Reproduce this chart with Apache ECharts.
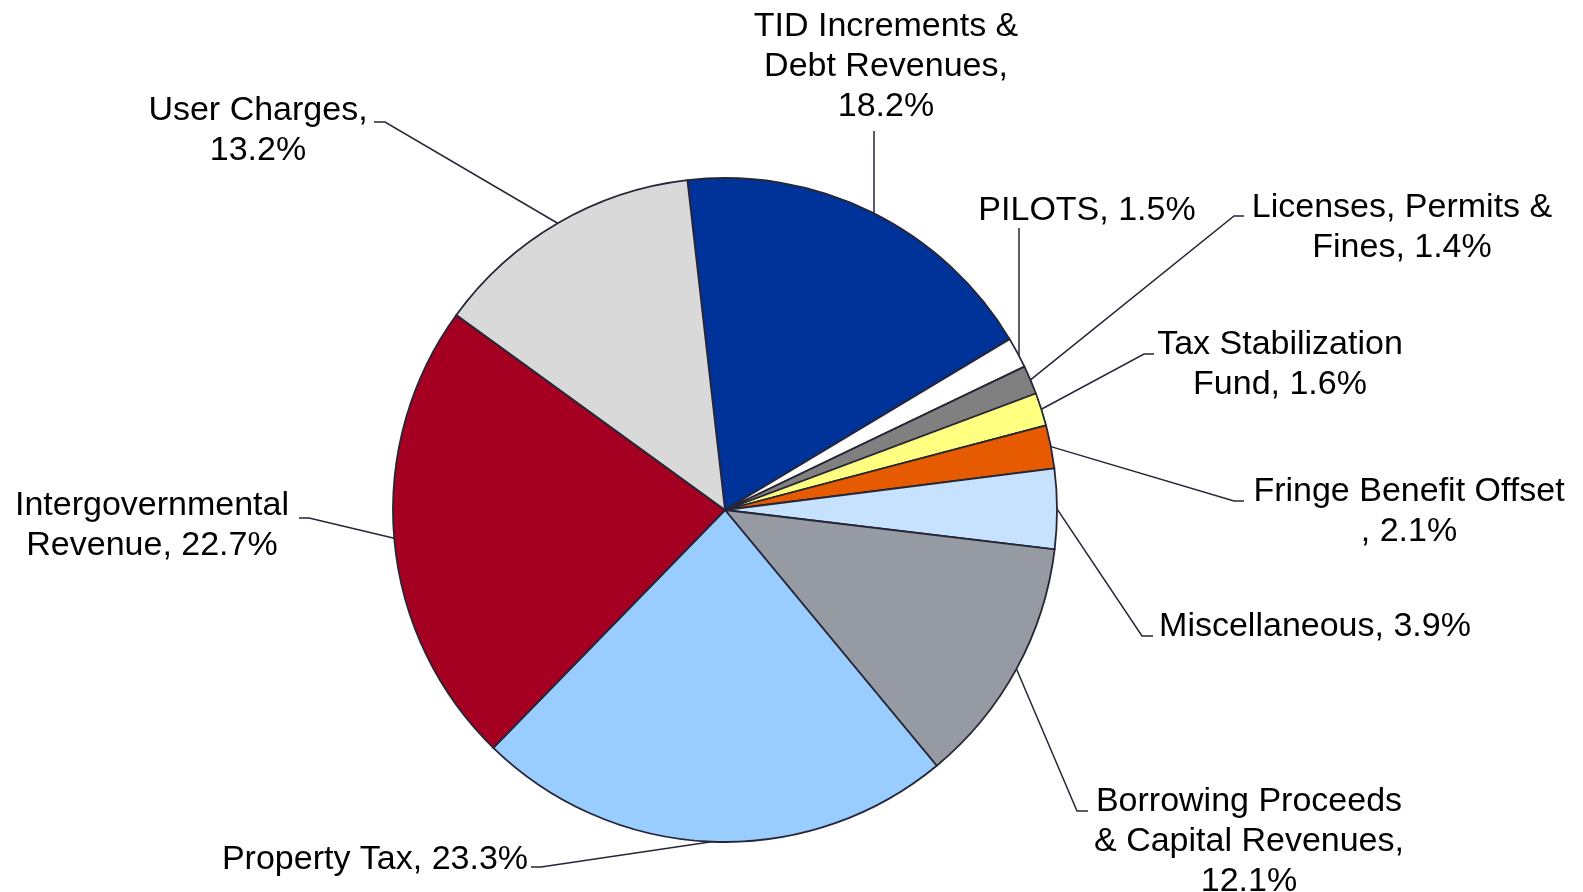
<!DOCTYPE html>
<html><head><meta charset="utf-8">
<script src="https://cdn.jsdelivr.net/npm/echarts@6/dist/echarts.min.js"></script>
<style>html,body{margin:0;padding:0;background:#fff}#c{width:1583px;height:892px}</style>
</head><body><div id="c"></div>
<script>
// ---- data ----
const categories = ['TID Increments & Debt Revenues', 'PILOTS', 'Licenses, Permits & Fines', 'Tax Stabilization Fund', 'Fringe Benefit Offset', 'Miscellaneous', 'Borrowing Proceeds & Capital Revenues', 'Property Tax', 'Intergovernmental Revenue', 'User Charges'];
const shares = [18.2, 1.5, 1.4, 1.6, 2.1, 3.9, 12.1, 23.3, 22.7, 13.2];
const labelPrefix = ['TID Increments &\nDebt Revenues,\n', 'PILOTS, ', 'Licenses, Permits &\nFines, ', 'Tax Stabilization\nFund, ', 'Fringe Benefit Offset\n, ', 'Miscellaneous, ', 'Borrowing Proceeds\n& Capital Revenues,\n', 'Property Tax, ', 'Intergovernmental\nRevenue, ', 'User Charges,\n'];

// ---- styles / layout ----
const colors = ['#003399', '#FFFFFF', '#808080', '#FFFF80', '#E65A00', '#C6E2FF', '#969BA3', '#99CCFF', '#A50021', '#D9D9D9'];
const CENTER = [725, 510];
const RADIUS = 332;
const START = 96.5;
const LABEL_LAYOUT = [
  { x: 886, y: 67, vx: 874, vy: 131 },
  { x: 1087, y: 211, vx: 1019, vy: 228 },
  { x: 1402, y: 228, elbow: [1234, 216], end: [1244, 216] },
  { x: 1280, y: 365, elbow: [1144, 354], end: [1154, 354] },
  { x: 1409, y: 512, elbow: [1234, 501], end: [1244, 501] },
  { x: 1315, y: 627, elbow: [1142, 636], end: [1153, 636] },
  { x: 1249, y: 842, elbow: [1077, 811], end: [1088, 811] },
  { x: 375, y: 860, elbow: [541, 867], end: [531, 867] },
  { x: 152, y: 526, elbow: [309, 518], end: [299, 518] },
  { x: 258, y: 131, elbow: [385, 122], end: [374, 122] }
];

function edgePoint(i) {
  const total = shares.reduce((a, b) => a + b, 0);
  let before = 0;
  for (let k = 0; k < i; k++) before += shares[k];
  const ang = (90 - START) + (before + shares[i] / 2) / total * 360; // degrees clockwise from top
  const r = ang * Math.PI / 180;
  return [CENTER[0] + RADIUS * Math.sin(r), CENTER[1] - RADIUS * Math.cos(r)];
}

const chart = echarts.init(document.getElementById('c'), null, { renderer: 'canvas' });
chart.setOption({
  backgroundColor: '#ffffff',
  animation: false,
  series: [{
    type: 'pie',
    center: CENTER,
    radius: RADIUS,
    startAngle: START,
    clockwise: true,
    avoidLabelOverlap: false,
    data: categories.map((c, i) => ({ name: c, value: shares[i], itemStyle: { color: colors[i] } })),
    itemStyle: { borderColor: '#262636', borderWidth: 1.8 },
    emphasis: { disabled: true },
    label: {
      show: true,
      position: 'outside',
      fontFamily: '"Liberation Sans", Arial, sans-serif',
      fontSize: 34,
      lineHeight: 40,
      color: '#000000',
      align: 'center',
      formatter: p => labelPrefix[p.dataIndex] + shares[p.dataIndex].toFixed(1) + '%'
    },
    labelLine: { show: true, lineStyle: { color: '#262636', width: 1.5 } },
    labelLayout: function (p) {
      const L = LABEL_LAYOUT[p.dataIndex];
      let p0 = edgePoint(p.dataIndex);
      let elbow = L.elbow, end = L.end;
      if (L.vx !== undefined) {
        const dx = L.vx - CENTER[0];
        p0 = [L.vx, CENTER[1] - Math.sqrt(RADIUS * RADIUS - dx * dx)];
        elbow = [L.vx, L.vy];
        end = [L.vx, L.vy];
      }
      return { x: L.x, y: L.y, align: 'center', verticalAlign: 'middle', labelLinePoints: [p0, elbow, end] };
    }
  }]
});
</script>
</body></html>
